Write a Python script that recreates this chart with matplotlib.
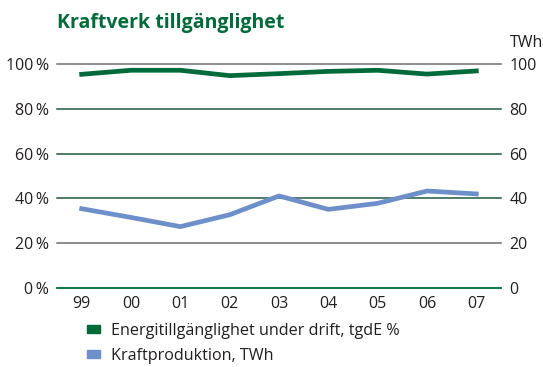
import matplotlib
matplotlib.use("Agg")
import matplotlib.pyplot as plt
from matplotlib.patches import Patch

plt.rcParams['font.family'] = ['Open Sans', 'DejaVu Sans']

years = ["99", "00", "01", "02", "03", "04", "05", "06", "07"]
availability = [95.4, 97.2, 97.2, 94.8, 95.7, 96.7, 97.2, 95.5, 96.9]   # tgdE %
production = [35.4, 31.5, 27.4, 32.7, 41.1, 35.1, 37.8, 43.3, 42.0]    # TWh

left_labels = ["0\u2009%", "20\u2009%", "40\u2009%", "60\u2009%", "80\u2009%", "100\u2009%"]
right_labels = ["0", "20", "40", "60", "80", "100"]
tick_vals = [0, 20, 40, 60, 80, 100]

GREEN = "#006a3a"
BLUE = "#6d8fca"
GRAY = "#6d6e71"
DARKGREEN = "#1f5a3e"
TEXT = "#231f20"

grid_colors = [GREEN, GRAY, DARKGREEN, DARKGREEN, DARKGREEN, GRAY]

fig = plt.figure(figsize=(5.43, 3.67), dpi=100)
ax = fig.add_axes([57 / 543, 79 / 367, 444 / 543, 224 / 367])

for v, c in zip(tick_vals, grid_colors):
    ax.axhline(v, color=c, lw=1.3 if v == 0 else 1.1, clip_on=False, zorder=1)

x = list(range(len(years)))
ax.plot(x, availability, color=GREEN, lw=3.4, solid_joinstyle='round', zorder=3)
ax.plot(x, production, color=BLUE, lw=3.4, solid_joinstyle='round', zorder=3)

ax.set_xlim(-0.5, len(years) - 0.5)
ax.set_ylim(0, 100)
for s in ax.spines.values():
    s.set_visible(False)

ax.set_xticks(x)
ax.set_xticklabels(years, fontsize=11.5, color=TEXT)
ax.set_yticks(tick_vals)
ax.set_yticklabels(left_labels, fontsize=11.5, color=TEXT)
ax.tick_params(axis='both', length=0)
ax.tick_params(axis='x', pad=6)
ax.tick_params(axis='y', pad=6)

ax2 = ax.twinx()
ax2.set_ylim(0, 100)
ax2.set_yticks(tick_vals)
ax2.set_yticklabels(right_labels, fontsize=11.5, color=TEXT)
ax2.tick_params(length=0, pad=6)
for s in ax2.spines.values():
    s.set_visible(False)
ax2.text(1.02, 1.06, "TWh", transform=ax.transAxes, fontsize=11.5,
         color=TEXT, ha='left', va='bottom')

fig.text(57 / 543, 1 - 23 / 367, "Kraftverk tillgänglighet", fontsize=14,
         fontweight='bold', color=GREEN, ha='left', va='center')

handles = [Patch(color=GREEN), Patch(color=BLUE)]
labels = ["Energitillgänglighet under drift, tgdE %", "Kraftproduktion, TWh"]
fig.legend(handles, labels, loc='upper left', bbox_to_anchor=(87 / 543, 1 - 323 / 367),
           frameon=False, fontsize=11.6, handlelength=0.8, handleheight=0.4,
           handletextpad=0.7, labelspacing=0.55, borderaxespad=0, borderpad=0,
           labelcolor=TEXT)

fig.savefig("out.png", dpi=100)
